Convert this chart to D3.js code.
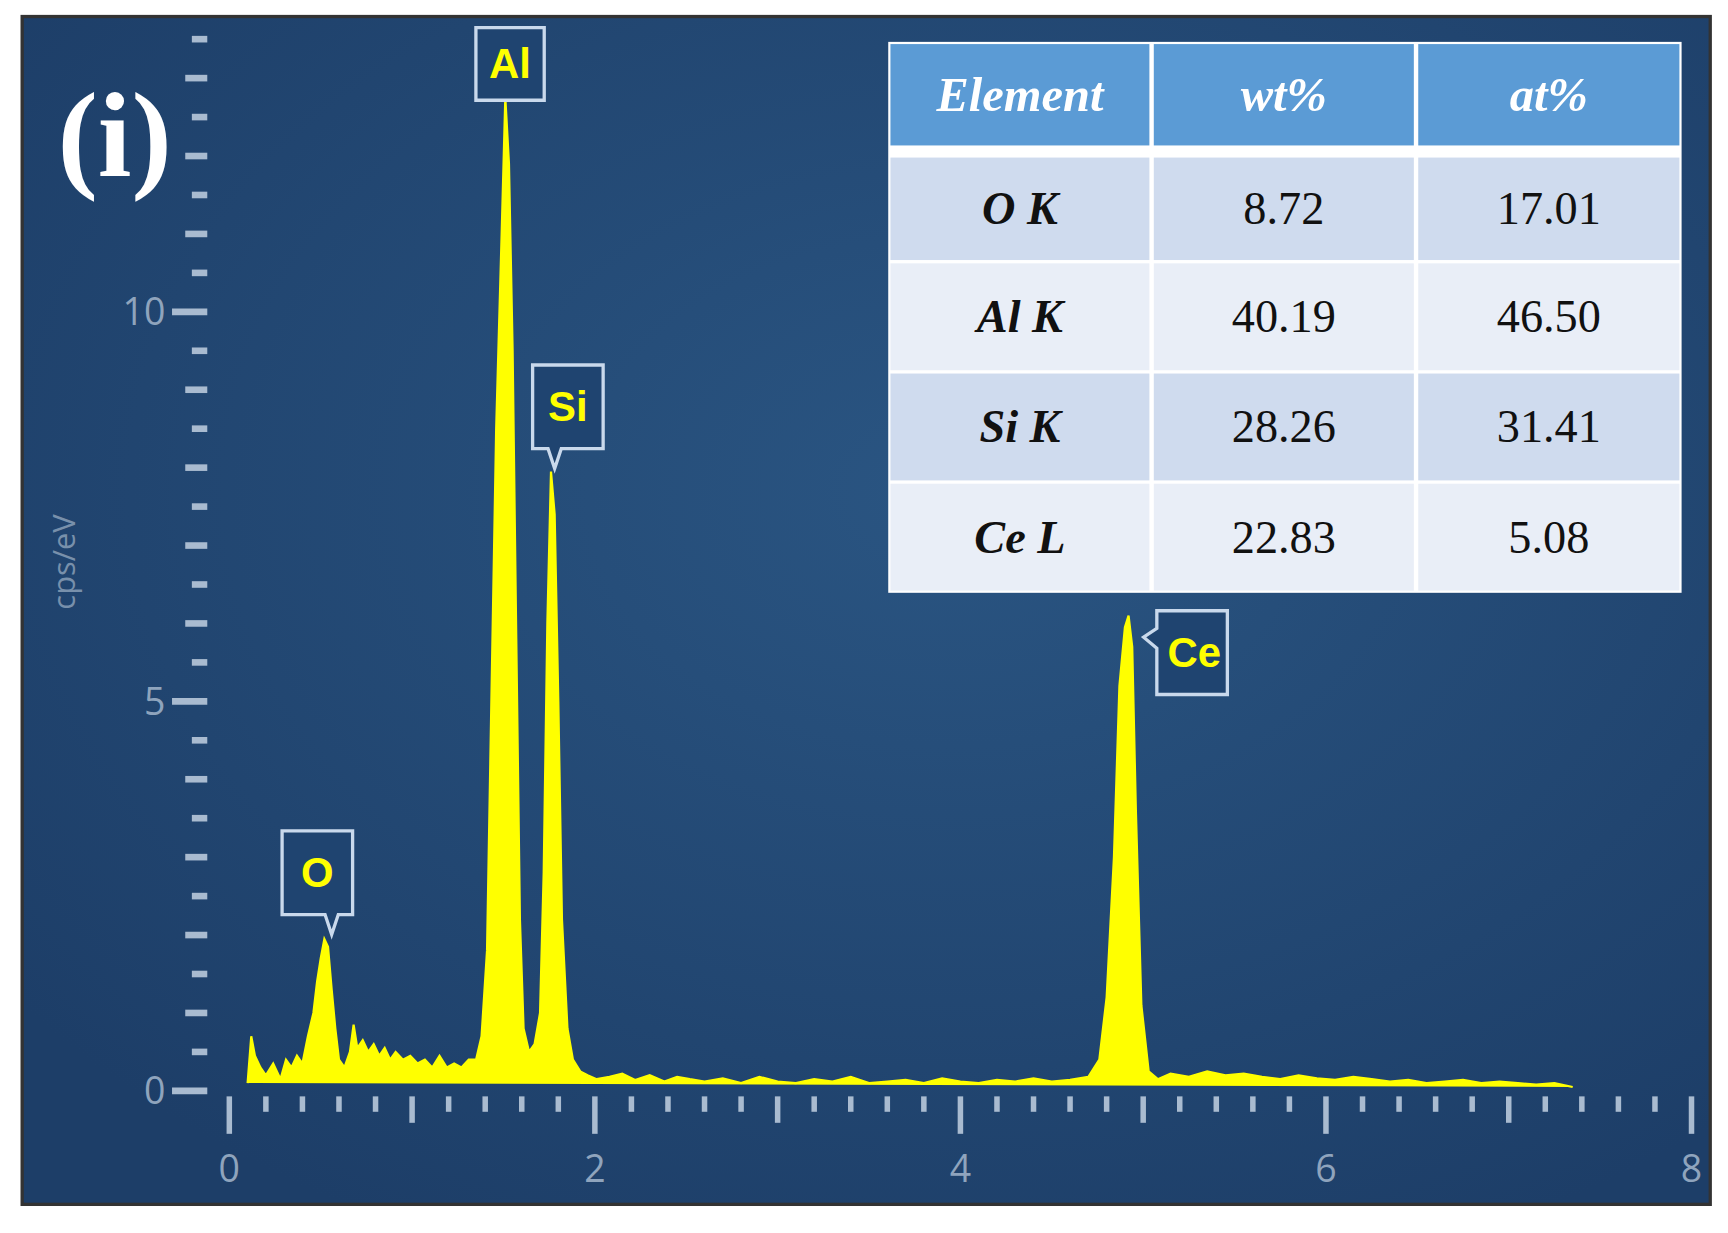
<!DOCTYPE html>
<html><head><meta charset="utf-8">
<script src="https://cdn.jsdelivr.net/npm/d3@7"></script>
<style>body{margin:0;background:#fff}</style>
</head><body><div id="chart"></div>
<script>
// EDS spectrum, keV vs cps/eV
const energy = [0.10,0.12,0.14,0.17,0.20,0.24,0.28,0.31,0.34,0.37,0.40,0.43,0.46,0.48,0.50,0.52,0.54,0.56,0.58,0.60,0.63,0.66,0.68,0.70,0.73,0.76,0.79,0.82,0.85,0.88,0.91,0.95,0.99,1.03,1.07,1.11,1.15,1.19,1.23,1.27,1.31,1.35,1.38,1.41,1.43,1.46,1.49,1.51,1.53,1.55,1.57,1.59,1.61,1.64,1.67,1.70,1.72,1.74,1.76,1.78,1.80,1.82,1.85,1.88,1.92,1.96,2.01,2.08,2.15,2.22,2.30,2.38,2.45,2.52,2.60,2.70,2.80,2.90,3.00,3.10,3.20,3.30,3.40,3.50,3.60,3.70,3.80,3.90,4.00,4.10,4.20,4.30,4.40,4.50,4.60,4.70,4.76,4.80,4.84,4.87,4.90,4.92,4.94,4.96,4.99,5.03,5.08,5.15,5.25,5.35,5.45,5.55,5.65,5.75,5.85,5.95,6.05,6.15,6.25,6.35,6.45,6.55,6.65,6.75,6.85,6.95,7.05,7.15,7.25,7.35,7.45,7.55];
const counts = [0.10,0.70,0.45,0.30,0.20,0.35,0.15,0.40,0.30,0.45,0.35,0.70,1.00,1.40,1.70,1.95,1.85,1.30,0.80,0.40,0.30,0.50,0.85,0.55,0.65,0.50,0.60,0.45,0.55,0.40,0.50,0.40,0.45,0.35,0.40,0.30,0.45,0.30,0.35,0.30,0.40,0.40,0.70,1.80,4.50,8.50,11.00,12.75,11.90,9.50,5.80,2.20,0.80,0.50,0.60,1.00,2.80,6.00,7.95,7.40,5.00,2.20,0.80,0.40,0.25,0.20,0.15,0.18,0.22,0.14,0.20,0.12,0.18,0.15,0.12,0.16,0.10,0.18,0.12,0.10,0.15,0.12,0.18,0.10,0.12,0.14,0.10,0.16,0.12,0.10,0.14,0.12,0.16,0.12,0.14,0.18,0.40,1.20,3.00,5.20,5.95,6.10,5.70,3.60,1.10,0.25,0.15,0.22,0.18,0.25,0.20,0.22,0.18,0.15,0.20,0.16,0.14,0.18,0.15,0.12,0.14,0.10,0.12,0.14,0.10,0.12,0.10,0.08,0.10,0.05];
const xTicks = [0,2,4,6,8];
const yTicks = [0,5,10];
const peaks = [
  {el:'O', e:0.56, v:1.98, dir:'down'},
  {el:'Al', e:1.53, v:12.7, dir:'none'},
  {el:'Si', e:1.78, v:7.96, dir:'down'},
  {el:'Ce', e:4.93, v:6.05, dir:'left'}
];
const tableHead = ['Element','wt%','at%'];
const tableRows = [['O K','8.72','17.01'],['Al K','40.19','46.50'],['Si K','28.26','31.41'],['Ce L','22.83','5.08']];

const W = 1568, H = 1119;
const svg = d3.select('#chart').append('svg')
  .attr('width', 1728).attr('height', 1233)
  .attr('viewBox', `0 0 ${W} ${H}`);

const defs = svg.append('defs');
const grad = defs.append('radialGradient').attr('id','bg').attr('cx','55%').attr('cy','40%').attr('r','70%');
grad.append('stop').attr('offset','0%').attr('stop-color','#2a5582');
grad.append('stop').attr('offset','100%').attr('stop-color','#1d3e68');

svg.append('rect').attr('x',20).attr('y',15).attr('width',1532).attr('height',1078)
  .attr('fill','url(#bg)').attr('stroke','#333').attr('stroke-width',3);

const x = d3.scaleLinear().domain([0,8]).range([208,1535]);
const y = d3.scaleLinear().domain([0,10]).range([990,283]);
const tickCol = '#a9bbd0';

// y ticks every 0.5
d3.range(0,13.6,0.5).forEach((v,i) => {
  const major = Math.abs(v % 5) < 1e-6;
  const len = major ? 32 : (i % 2 === 0 ? 20 : 14);
  svg.append('line').attr('x1',188-len).attr('x2',188).attr('y1',y(v)).attr('y2',y(v))
    .attr('stroke',tickCol).attr('stroke-width',6);
});
svg.selectAll('.ylab').data(yTicks).enter().append('text')
  .attr('x',150).attr('y',d=>y(d)+12).attr('text-anchor','end')
  .attr('fill','#8fa4bd').style('font-family','Open Sans, sans-serif').style('font-size','34px').text(d=>d);

// x ticks every 0.2
d3.range(0,8.01,0.2).forEach(v => {
  const r = Math.round(v*5);
  const len = r % 10 === 0 ? 34 : (r % 5 === 0 ? 24 : 14);
  svg.append('line').attr('x1',x(v)).attr('x2',x(v)).attr('y1',995).attr('y2',995+len)
    .attr('stroke',tickCol).attr('stroke-width',5);
});
svg.selectAll('.xlab').data(xTicks).enter().append('text')
  .attr('x',d=>x(d)).attr('y',1073).attr('text-anchor','middle')
  .attr('fill','#8fa4bd').style('font-family','Open Sans, sans-serif').style('font-size','34px').text(d=>d);

svg.append('text').attr('transform','translate(68,510) rotate(-90)').attr('text-anchor','middle')
  .attr('fill','#7890ab').style('font-family','Open Sans, sans-serif').style('font-size','28px').text('cps/eV');

// spectrum
const pts = energy.map((e,i)=>[e,counts[i]]);
svg.append('path').datum(pts)
  .attr('d', d3.area().x(d=>x(d[0])).y0(y(0)-2).y1(d=>y(d[1])))
  .attr('fill','#ffff00').attr('stroke','#ffff00').attr('stroke-width',2);

// peak labels
const bw = 64, bh = 76;
peaks.forEach(p => {
  const px = x(p.e), py = y(p.v);
  let path, tx, ty;
  if (p.dir === 'down') {
    const bx = p.el === 'Si' ? px - 20 : px - 45, by = py - 20 - bh;
    const off = px - bx;
    path = `M${bx},${by}h${bw}v${bh}h-${bw-off-6}l-6,18l-6,-18h-${off-6}z`;
    tx = bx + bw/2; ty = by + bh/2 + 13;
  } else if (p.dir === 'left') {
    const bx = px + 24, by = py - 8;
    path = `M${bx},${by}h${bw}v${bh}h-${bw}v${-bh+34}l-12,-10l12,-8z`;
    tx = bx + bw/2 + 2; ty = by + bh/2 + 13;
  } else {
    const bx = px - 30, by = 25;
    path = `M${bx},${by}h${62}v${66}h-62z`;
    tx = bx + 31; ty = by + 46;
  }
  svg.append('path').attr('d',path).attr('fill','#1f4470').attr('stroke','#c9d9ec').attr('stroke-width',3);
  svg.append('text').attr('x',tx).attr('y',ty).attr('text-anchor','middle')
    .attr('fill','#ffff00').style('font-family','Liberation Sans, Arial, sans-serif')
    .style('font-size','38px').style('font-weight','bold').text(p.el);
});

svg.append('text').attr('x',52).attr('y',160).attr('fill','#fff')
  .style('font-family','Liberation Serif, Times New Roman, serif').style('font-size','110px').style('font-weight','bold')
  .text('(i)');

// table
const colX = [806,1045,1285,1526];
const rowY = [38,138,238,338,438,538];
const tg = svg.append('g');
tg.append('rect').attr('x',806).attr('y',38).attr('width',720).attr('height',500).attr('fill','#fff');
tableHead.forEach((h,j) => {
  tg.append('rect').attr('x',colX[j]+2).attr('y',40).attr('width',colX[j+1]-colX[j]-4).attr('height',92).attr('fill','#5b9bd5');
  tg.append('text').attr('x',(colX[j]+colX[j+1])/2).attr('y',101).attr('text-anchor','middle')
    .attr('fill','#fff').style('font-family','Liberation Serif, serif').style('font-size','44px')
    .style('font-style','italic').style('font-weight','bold').text(h);
});
tableRows.forEach((r,i) => {
  const top = i === 0 ? 143 : rowY[i+1]+1;
  const bot = rowY[i+2]-2;
  r.forEach((c,j) => {
    tg.append('rect').attr('x',colX[j]+2).attr('y',top).attr('width',colX[j+1]-colX[j]-4).attr('height',bot-top)
      .attr('fill', i % 2 === 0 ? '#cfdbee' : '#e9eef7');
    tg.append('text').attr('x',(colX[j]+colX[j+1])/2).attr('y',(top+bot)/2+14).attr('text-anchor','middle')
      .attr('fill','#111').style('font-family','Liberation Serif, serif').style('font-size','42px')
      .style('font-style', j === 0 ? 'italic' : 'normal').style('font-weight', j === 0 ? 'bold' : 'normal').text(c);
  });
});
</script></body></html>
